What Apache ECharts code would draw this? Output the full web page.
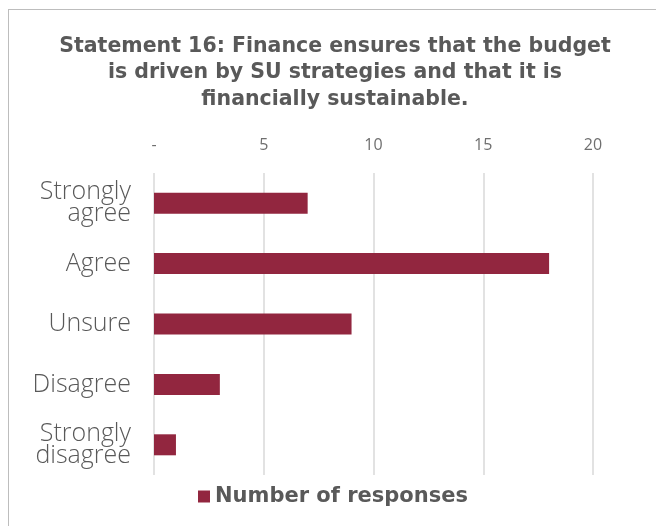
<!DOCTYPE html>
<html>
<head>
<meta charset="utf-8">
<script src="https://cdn.jsdelivr.net/npm/echarts@6/dist/echarts.min.js"></script>
<style>
  html, body { margin: 0; padding: 0; background: #fff; }
  #chart { width: 656px; height: 526px; position: relative; }
  #frame { position: absolute; left: 8px; top: 9px; width: 700px; height: 600px;
           border-top: 1.5px solid #bdbdbd; border-left: 1.5px solid #bdbdbd; pointer-events: none; }
</style>
</head>
<body>
<div id="chart"></div>
<script>
// Survey responses for statement 16
const categories = ['Strongly\nagree', 'Agree', 'Unsure', 'Disagree', 'Strongly\ndisagree'];
const responses = [7, 18, 9, 3, 1];
const seriesName = 'Number of responses';
const titleText = 'Statement 16: Finance ensures that the budget\nis driven by SU strategies and that it is\nfinancially sustainable.';

const chart = echarts.init(document.getElementById('chart'), null, { renderer: 'canvas' });
const textColor = '#595959';
const barColor = '#92263f';

chart.setOption({
  backgroundColor: '#ffffff',
  animation: false,
  title: {
    text: titleText,
    left: 330,
    textAlign: 'center',
    top: 28,
    textStyle: {
      fontFamily: 'DejaVu Sans',
      fontWeight: 'bold',
      fontSize: 20.5,
      lineHeight: 26.5,
      color: textColor
    }
  },
  legend: {
    data: [seriesName],
    bottom: 14,
    left: 193,
    itemWidth: 12,
    itemHeight: 12,
    itemGap: 8,
    icon: 'rect',
    textStyle: {
      fontFamily: 'DejaVu Sans',
      fontWeight: 'bold',
      fontSize: 21,
      color: textColor
    }
  },
  grid: { left: 154, right: 63, top: 173, bottom: 51, containLabel: false },
  xAxis: {
    type: 'value',
    position: 'top',
    min: 0,
    max: 20,
    interval: 5,
    axisLine: { show: false },
    axisTick: { show: false },
    splitLine: { lineStyle: { color: '#d9d9d9', width: 1.5 } },
    axisLabel: {
      margin: 20,
      fontFamily: 'Open Sans',
      fontSize: 16,
      color: '#6f6f6f',
      formatter: v => (v === 0 ? '-' : String(v))
    }
  },
  yAxis: {
    type: 'category',
    inverse: true,
    data: categories,
    axisLine: { show: false },
    axisTick: { show: false },
    axisLabel: {
      margin: 23,
      fontFamily: 'Open Sans',
      fontWeight: 300,
      fontSize: 25,
      lineHeight: 22,
      color: textColor,
      align: 'right'
    }
  },
  series: [{
    name: seriesName,
    type: 'bar',
    data: responses,
    barWidth: 21,
    itemStyle: { color: barColor }
  }]
});
</script>
<div id="frame"></div>
</body>
</html>
